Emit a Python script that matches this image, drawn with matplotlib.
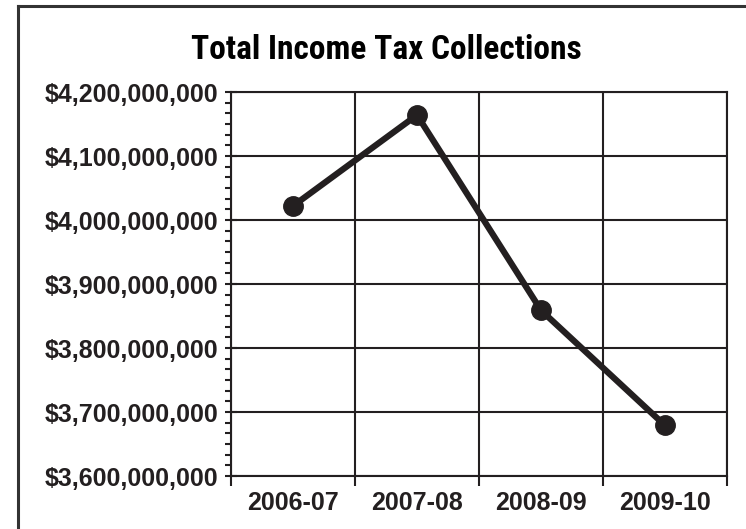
import matplotlib
matplotlib.use("Agg")
import matplotlib.pyplot as plt
from matplotlib.ticker import FuncFormatter, MultipleLocator, FixedLocator
from matplotlib.lines import Line2D
from matplotlib import font_manager

# data
years = ["2006-07", "2007-08", "2008-09", "2009-10"]
collections = [4022000000, 4164000000, 3859000000, 3679000000]

ink = "#231f20"

fig = plt.figure(figsize=(7.46, 5.29), dpi=100)
ax = fig.add_axes([231 / 746, 1 - 476 / 529, 496 / 746, 384 / 529])

x = list(range(len(years)))
ax.plot(x, collections, color=ink, lw=4.5, marker="o", ms=14,
        solid_capstyle="round", zorder=3)

ax.set_xlim(-0.5, len(years) - 0.5)
ax.set_ylim(3600000000, 4200000000)

# boundaries between categories get the grid lines, centres get the labels
ax.xaxis.set_major_locator(FixedLocator([i - 0.5 for i in range(len(years) + 1)]))
ax.xaxis.set_minor_locator(FixedLocator(x))
ax.set_xticklabels([])
ax.set_xticklabels(years, minor=True)
ax.tick_params(axis="x", which="major", direction="out", length=7, width=1.5, color=ink)
ax.tick_params(axis="x", which="minor", length=0, pad=11, labelsize=18)

ax.yaxis.set_major_locator(MultipleLocator(100000000))
ax.yaxis.set_minor_locator(MultipleLocator(100000000 / 6))
ax.yaxis.set_major_formatter(FuncFormatter(lambda v, p: "${:,.0f}".format(v)))
ax.tick_params(axis="y", which="major", direction="inout", length=8, width=1.5,
               color=ink, pad=5, labelsize=18)
ax.tick_params(axis="y", which="minor", direction="out", length=4, width=1.5, color=ink)

for lab in ax.get_xticklabels(minor=True) + ax.get_yticklabels():
    lab.set_family("Liberation Sans")
    lab.set_fontweight("bold")
    lab.set_color(ink)

ax.grid(True, which="major", color=ink, lw=1.5)
for s in ax.spines.values():
    s.set_color(ink)
    s.set_linewidth(1.5)

# pick a narrow heavy face if one is installed
names = {f.name for f in font_manager.fontManager.ttflist}
narrow = [n for n in ["Roboto Condensed", "DejaVu Sans Condensed",
                      "Liberation Sans Narrow", "Open Sans Condensed"] if n in names]
if narrow:
    title_font = [narrow[0], "DejaVu Sans"]
    title_size = 24
else:
    title_font = ["DejaVu Sans"]
    title_size = 20
fig.text(386 / 746, 1 - 50 / 529, "Total Income Tax Collections",
         ha="center", va="center", fontsize=title_size, fontweight="heavy",
         family=title_font, color="black")

# frame: only left and top edges are visible in the reference
fig.add_artist(Line2D([18 / 746, 18 / 746], [0, 1 - 6 / 529],
                      transform=fig.transFigure, color="#333333", lw=2.2))
fig.add_artist(Line2D([18 / 746, 1], [1 - 6 / 529, 1 - 6 / 529],
                      transform=fig.transFigure, color="#333333", lw=2.2))

fig.savefig("out.png", dpi=100)
